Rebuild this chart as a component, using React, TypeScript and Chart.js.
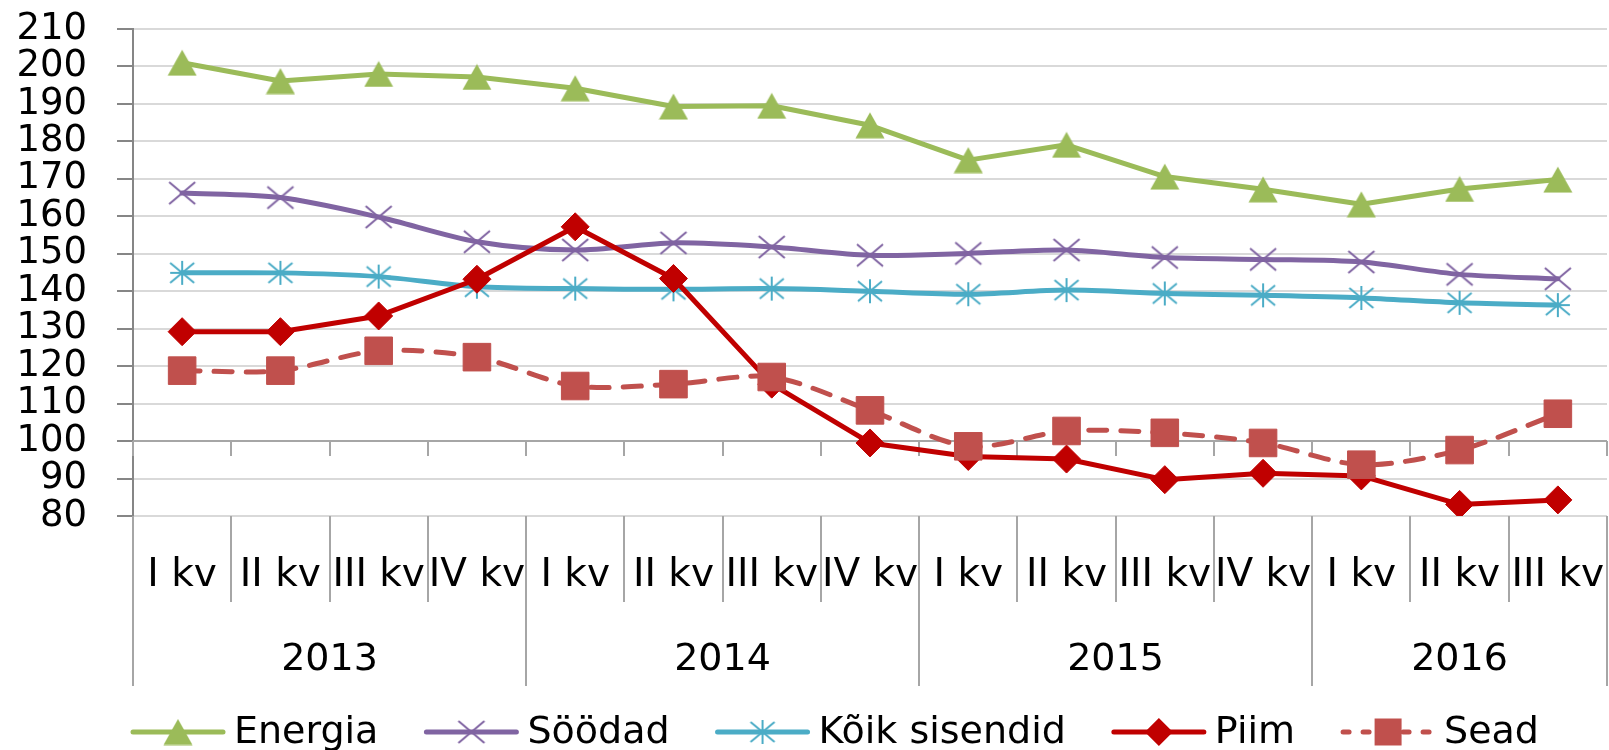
import React, { useEffect, useRef } from 'react';
import { Chart, registerables } from 'chart.js';

Chart.register(...registerables);

// ---------- data ----------
const quarterLabels = ['I kv', 'II kv', 'III kv', 'IV kv', 'I kv', 'II kv', 'III kv', 'IV kv', 'I kv', 'II kv', 'III kv', 'IV kv', 'I kv', 'II kv', 'III kv'];
const yearLabels = ['2013', '2014', '2015', '2016'];
const quartersPerYear = [4, 4, 4, 3];

const energia = [201.0, 196.1, 198.0, 197.2, 194.2, 189.3, 189.5, 184.3, 175.0, 179.1, 170.6, 167.2, 163.2, 167.3, 169.8];
const soodad = [166.2, 165.0, 159.8, 153.2, 151.0, 152.9, 151.8, 149.6, 150.1, 151.0, 149.0, 148.5, 147.8, 144.5, 143.3];
const koikSisendid = [144.9, 144.9, 143.9, 141.2, 140.7, 140.5, 140.7, 140.0, 139.2, 140.3, 139.4, 138.9, 138.2, 136.9, 136.3];
const piim = [129.2, 129.2, 133.4, 143.2, 157.2, 143.4, 115.2, 99.5, 95.9, 95.2, 89.7, 91.4, 90.7, 83.1, 84.3];
const sead = [118.8, 118.8, 124.1, 122.4, 114.7, 115.2, 117.1, 108.2, 98.6, 102.7, 102.2, 99.5, 93.7, 97.6, 107.3];

const yMin = 80;
const yMax = 210;
const yStep = 10;
const xAxisCrossesAt = 100;

const FONT = "'DejaVu Sans'";

// ---------- marker images ----------
function makeTriangle(color: string) {
  const c = document.createElement('canvas');
  c.width = 30; c.height = 27;
  const g = c.getContext('2d')!;
  g.fillStyle = color;
  g.beginPath();
  g.moveTo(15, 0.5); g.lineTo(29.5, 26.5); g.lineTo(0.5, 26.5);
  g.closePath(); g.fill();
  return c;
}
function makeX(color: string) {
  const c = document.createElement('canvas');
  c.width = 30; c.height = 26;
  const g = c.getContext('2d')!;
  g.strokeStyle = color; g.lineWidth = 2;
  g.beginPath();
  g.moveTo(2, 2); g.lineTo(28, 24);
  g.moveTo(2, 24); g.lineTo(28, 2);
  g.stroke();
  return c;
}
function makeAsterisk(color: string) {
  const c = document.createElement('canvas');
  c.width = 28; c.height = 26;
  const g = c.getContext('2d')!;
  g.strokeStyle = color; g.lineWidth = 2;
  g.beginPath();
  g.moveTo(14, 1); g.lineTo(14, 25);
  g.moveTo(2, 3); g.lineTo(26, 23);
  g.moveTo(2, 23); g.lineTo(26, 3);
  g.moveTo(2, 13); g.lineTo(26, 13);
  g.stroke();
  return c;
}

function drawMarker(ctx: CanvasRenderingContext2D, style: any, color: string, x: number, y: number) {
  if (style && typeof style === 'object') {
    ctx.drawImage(style, x - style.width / 2, y - style.height / 2);
    return;
  }
  ctx.save();
  ctx.fillStyle = color;
  ctx.beginPath();
  if (style === 'rectRot') {
    const r = 14;
    ctx.moveTo(x - r, y); ctx.lineTo(x, y - r); ctx.lineTo(x + r, y); ctx.lineTo(x, y + r);
  } else {
    const h = 13.5;
    ctx.rect(x - h, y - h, 2 * h, 2 * h);
  }
  ctx.closePath();
  ctx.fill();
  ctx.restore();
}

const excelAxisPlugin = {
  id: 'excelAxis',
  beforeDatasetsDraw(chart: any) {
    const { ctx, chartArea, scales } = chart;
    const x = scales.x;
    const y = scales.y;
    const yc = y.getPixelForValue(xAxisCrossesAt);
    const step = x.getPixelForValue(1) - x.getPixelForValue(0);
    const n = quarterLabels.length;
    ctx.save();
    ctx.strokeStyle = '#a6a6a6';
    ctx.lineWidth = 2;
    ctx.beginPath();
    ctx.moveTo(chartArea.left, yc);
    ctx.lineTo(chartArea.right, yc);
    for (let i = 0; i <= n; i++) {
      const bx = Math.round(x.getPixelForValue(0) + (i - 0.5) * step);
      ctx.moveTo(bx, yc);
      ctx.lineTo(bx, yc + 15);
    }
    ctx.stroke();
    ctx.restore();
  },
  afterDraw(chart: any) {
    const { ctx, chartArea, scales } = chart;
    const x = scales.x;
    const step = x.getPixelForValue(1) - x.getPixelForValue(0);
    const n = quarterLabels.length;
    const b = chartArea.bottom;
    const boundary = (i: number) => Math.round(x.getPixelForValue(0) + (i - 0.5) * step);

    ctx.save();
    ctx.strokeStyle = '#a6a6a6';
    ctx.lineWidth = 2;
    const yearStarts: number[] = [0];
    quartersPerYear.forEach((q, k) => yearStarts.push(yearStarts[k] + q));
    ctx.beginPath();
    for (let i = 0; i <= n; i++) {
      const bx = boundary(i);
      const isYear = yearStarts.includes(i);
      ctx.moveTo(bx, b);
      ctx.lineTo(bx, b + (isYear ? 170 : 86));
    }
    ctx.stroke();

    ctx.fillStyle = '#000';
    ctx.textAlign = 'center';
    ctx.textBaseline = 'middle';

    // quarter labels (category axis)
    ctx.font = `39px ${FONT}`;
    chart.data.labels.forEach((lab: string, i: number) => {
      ctx.fillText(lab, x.getPixelForValue(i), b + 60);
    });

    // year labels
    ctx.font = `38px ${FONT}`;
    yearLabels.forEach((lab, k) => {
      const cx = (boundary(yearStarts[k]) + boundary(yearStarts[k + 1])) / 2;
      ctx.fillText(lab, cx, b + 144);
    });

    // legend
    const ly = b + 216;
    ctx.font = `38px ${FONT}`;
    ctx.textAlign = 'left';
    let lx = chartArea.left - 3;
    chart.data.datasets.forEach((ds: any) => {
      const color = ds.borderColor;
      ctx.save();
      ctx.strokeStyle = color;
      ctx.lineWidth = 5;
      ctx.lineCap = 'round';
      if (ds.borderDash && ds.borderDash.length) {
        ctx.setLineDash([6, 14]);
        ctx.beginPath(); ctx.moveTo(lx + 3, ly); ctx.lineTo(lx + 96, ly); ctx.stroke();
      } else {
        ctx.beginPath(); ctx.moveTo(lx + 3, ly); ctx.lineTo(lx + 93, ly); ctx.stroke();
      }
      ctx.restore();
      drawMarker(ctx, ds.pointStyle, color, lx + 48, ly);
      ctx.fillStyle = '#000';
      ctx.fillText(ds.label, lx + 104, ly + 1);
      lx += 104 + ctx.measureText(ds.label).width + 45;
    });
    ctx.restore();
  },
};

export default function App() {
  const ref = useRef<HTMLCanvasElement>(null);
  useEffect(() => {
    if (!ref.current) return;
    const green = '#9bbb59';
    const purple = '#8064a2';
    const cyan = '#4bacc6';
    const red = '#c00000';
    const rose = '#c0504d';
    const common = {
      borderWidth: 5, borderCapStyle: 'round', borderJoinStyle: 'round',
      pointBorderWidth: 1, pointRadius: 14, fill: false,
    };
    const chart = new Chart(ref.current, {
      type: 'line',
      data: {
        labels: quarterLabels,
        datasets: [
          { ...common, label: 'Energia', data: energia, borderColor: green, backgroundColor: green, pointBackgroundColor: green, pointBorderColor: green, pointStyle: makeTriangle(green), tension: 0, order: 5 },
          { ...common, label: 'Söödad', data: soodad, borderColor: purple, backgroundColor: purple, pointBackgroundColor: purple, pointBorderColor: purple, pointStyle: makeX(purple), tension: 0.3, order: 4 },
          { ...common, label: 'Kõik sisendid', data: koikSisendid, borderColor: cyan, backgroundColor: cyan, pointBackgroundColor: cyan, pointBorderColor: cyan, pointStyle: makeAsterisk(cyan), tension: 0.3, order: 3 },
          { ...common, label: 'Piim', data: piim, borderColor: red, backgroundColor: red, pointBackgroundColor: red, pointBorderColor: red, pointStyle: 'rectRot', pointRadius: 14, tension: 0, order: 2 },
          { ...common, label: 'Sead', data: sead, borderColor: rose, backgroundColor: rose, pointBackgroundColor: rose, pointBorderColor: rose, pointStyle: 'rect', pointRadius: 19.5, borderDash: [18, 14], borderCapStyle: 'round', tension: 0.3, order: 1 },
        ],
      } as any,
      options: {
        animation: false,
        responsive: true,
        maintainAspectRatio: false,
        layout: { autoPadding: false, padding: { top: 29, right: 2, left: 0, bottom: 0 } },
        plugins: { legend: { display: false }, tooltip: { enabled: false } },
        scales: {
          x: {
            type: 'category',
            offset: true,
            grid: { display: false },
            border: { display: false },
            ticks: { display: false, autoSkip: false, maxRotation: 0, minRotation: 0, padding: 0 },
            afterFit: (scale: any) => { scale.height = 234; scale.paddingLeft = 0; scale.paddingRight = 0; },
          },
          y: {
            min: yMin,
            max: yMax,
            ticks: { stepSize: yStep, autoSkip: false, padding: 30, color: '#000', font: { family: FONT, size: 37 } },
            grid: { color: '#d9d9d9', lineWidth: 2, tickLength: 16, tickColor: '#868686', tickWidth: 2 },
            border: { color: '#868686', width: 2 },
            afterFit: (scale: any) => { scale.width = 133; scale.paddingTop = 0; scale.paddingBottom = 0; },
          },
        },
      } as any,
      plugins: [excelAxisPlugin],
    });
    return () => chart.destroy();
  }, []);
  return (
    <div style={{ position: 'absolute', left: 0, top: 0, width: 1609, height: 750 }}>
      <canvas ref={ref} />
    </div>
  );
}
